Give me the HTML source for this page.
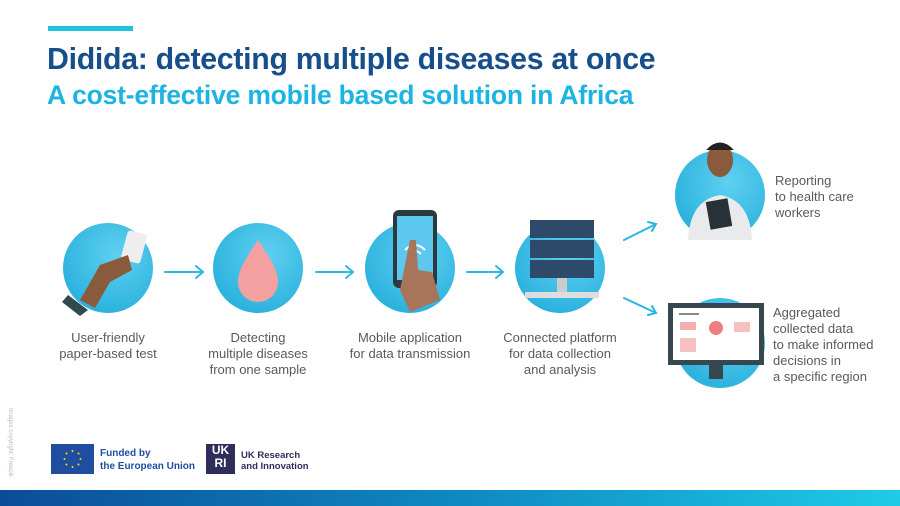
<!DOCTYPE html>
<html><head><meta charset="utf-8"><style>
body{margin:0;width:900px;height:506px;overflow:hidden;background:#fff;font-family:"Liberation Sans",Arial,sans-serif;position:relative}
.a{position:absolute}
.lbl{position:absolute;color:#5a5a5a;font-size:13px;line-height:16px;text-align:center;width:150px}
.rl{position:absolute;color:#5a5a5a;font-size:13px;line-height:16px}
.c{position:absolute;border-radius:50%;background:radial-gradient(circle at 60% 35%,#5fd0f0,#1aa8d8)}
</style></head><body>
<div class="a" style="left:48px;top:26px;width:85px;height:5px;background:#22c0e3"></div>
<div class="a" style="left:47px;top:43px;font-size:30.3px;font-weight:bold;color:#174f8c;letter-spacing:-0.3px">Didida: detecting multiple diseases at once</div>
<div class="a" style="left:47px;top:80px;font-size:26.5px;font-weight:bold;color:#1cb4e2;letter-spacing:-0.2px">A cost-effective mobile based solution in Africa</div>

<div class="c" style="left:63px;top:223px;width:90px;height:90px"></div>
<div class="c" style="left:213px;top:223px;width:90px;height:90px"></div>
<div class="c" style="left:365px;top:223px;width:90px;height:90px"></div>
<div class="c" style="left:515px;top:223px;width:90px;height:90px"></div>
<div class="c" style="left:675px;top:150px;width:90px;height:90px"></div>
<div class="c" style="left:675px;top:298px;width:90px;height:90px"></div>

<svg class="a" style="left:0;top:0" width="900" height="506">
<g stroke="#2bb8e0" stroke-width="2" fill="none" stroke-linecap="round">
<path d="M165 272H203M196 266l7 6-7 6"/>
<path d="M316 272H353M346 266l7 6-7 6"/>
<path d="M467 272H503M496 266l7 6-7 6"/>
<path d="M624 240L656 224M648 222l8 2-4 7"/>
<path d="M624 298L656 313M652 306l4 7-8 2"/>
</g>
<rect x="124" y="232" width="20" height="30" rx="3" fill="#eee" transform="rotate(15 134 247)"/>
<path d="M80 300 L100 265 L128 255 L132 270 L110 282 L95 308Z" fill="#8a5a3c"/>
<path d="M68 295 L88 310 L80 316 L62 302Z" fill="#2f4a50"/>
<path d="M258 240 C245 260 238 270 238 282 A20 20 0 0 0 278 282 C278 270 271 260 258 240Z" fill="#f4a0a0"/>
<rect x="393" y="210" width="44" height="78" rx="6" fill="#2c3a40"/>
<rect x="397" y="216" width="36" height="64" fill="#5cc8ef"/>
<path d="M405 250 Q415 240 425 250 M409 254 Q415 248 421 254" stroke="#fff" stroke-width="2" fill="none"/>
<path d="M410 240 L416 240 L418 270 L432 272 L440 300 L410 312 L400 290Z" fill="#a8745a"/>
<rect x="530" y="220" width="64" height="18" fill="#2d4a6a"/>
<rect x="530" y="240" width="64" height="18" fill="#2d4a6a"/>
<rect x="530" y="260" width="64" height="18" fill="#2d4a6a"/>
<rect x="557" y="278" width="10" height="16" fill="#ccc"/>
<rect x="525" y="292" width="74" height="6" fill="#ddd"/>
<path d="M688 240 Q690 200 720 195 Q750 200 752 240Z" fill="#e8eaec"/>
<ellipse cx="720" cy="160" rx="13" ry="17" fill="#8a5a3c"/>
<path d="M706 150 Q720 135 734 150" fill="#222"/>
<rect x="708" y="200" width="22" height="28" fill="#263238" transform="rotate(-10 719 214)"/>
<rect x="668" y="303" width="96" height="62" fill="#37474f"/>
<rect x="673" y="308" width="86" height="52" fill="#fff"/>
<rect x="709" y="365" width="14" height="14" fill="#37474f"/>
<circle cx="716" cy="328" r="7" fill="#f08080"/>
<rect x="680" y="322" width="16" height="8" fill="#f4b0b0"/>
<rect x="680" y="338" width="16" height="14" fill="#f4c0c0"/>
<rect x="734" y="322" width="16" height="10" fill="#f4c0c0"/>
<rect x="679" y="313" width="20" height="2" fill="#888"/>
</svg>

<div class="lbl" style="left:33px;top:330px">User-friendly<br>paper-based test</div>
<div class="lbl" style="left:183px;top:330px">Detecting<br>multiple diseases<br>from one sample</div>
<div class="lbl" style="left:335px;top:330px">Mobile application<br>for data transmission</div>
<div class="lbl" style="left:485px;top:330px">Connected platform<br>for data collection<br>and analysis</div>
<div class="rl" style="left:775px;top:173px">Reporting<br>to health care<br>workers</div>
<div class="rl" style="left:773px;top:305px">Aggregated<br>collected data<br>to make informed<br>decisions in<br>a specific region</div>

<div class="a" style="left:-25px;top:440px;transform:rotate(90deg);font-size:6px;color:#bbb;width:70px">Images copyright: Freepik</div>

<div class="a" style="left:51px;top:444px;width:43px;height:30px;background:#1f4ea0"></div>
<svg class="a" style="left:51px;top:444px" width="43" height="30"><g fill="#ffdd00"><circle cx="21.5" cy="7" r="1"/><circle cx="21.5" cy="23" r="1"/><circle cx="13.5" cy="15" r="1"/><circle cx="29.5" cy="15" r="1"/><circle cx="15.5" cy="9.5" r="1"/><circle cx="27.5" cy="9.5" r="1"/><circle cx="15.5" cy="20.5" r="1"/><circle cx="27.5" cy="20.5" r="1"/></g></svg>
<div class="a" style="left:100px;top:447px;font-size:10px;line-height:13px;font-weight:bold;color:#1f4ea0">Funded by<br>the European Union</div>
<div class="a" style="left:206px;top:444px;width:29px;height:30px;background:#2e2d5c;color:#fff;font-size:12px;font-weight:bold;line-height:13px;text-align:center">UK<br>RI</div>
<div class="a" style="left:241px;top:450px;font-size:9.5px;line-height:11px;font-weight:bold;color:#2e2d5c">UK Research<br>and Innovation</div>

<div class="a" style="left:0;top:490px;width:900px;height:16px;background:linear-gradient(90deg,#0b4c98,#0f8ec4 55%,#1ecbe8)"></div>
</body></html>
